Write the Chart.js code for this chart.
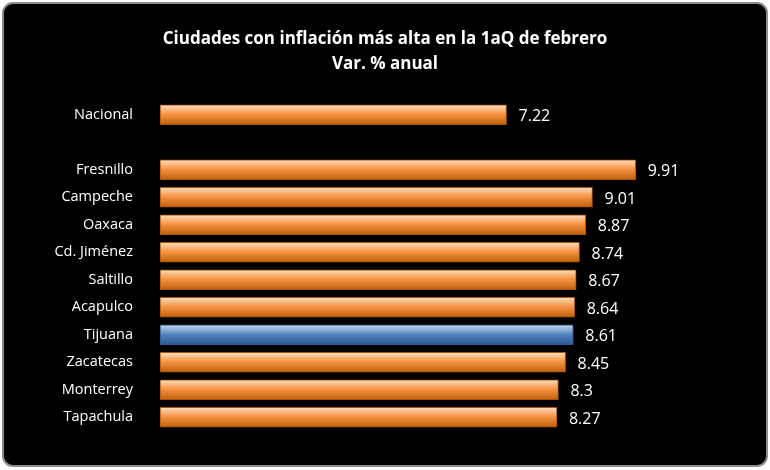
<!DOCTYPE html>
<html><head><meta charset="utf-8">
<script src="https://cdn.jsdelivr.net/npm/chart.js@4"></script>
<style>html,body{margin:0;padding:0;background:#fff}#w{width:770px;height:470px}</style>
</head><body><div id="w"><canvas id="c" width="770" height="470"></canvas></div>
<script>
const categories=["Nacional","","Fresnillo","Campeche","Oaxaca","Cd. Jiménez","Saltillo","Acapulco","Tijuana","Zacatecas","Monterrey","Tapachula"];
const values=[7.22,null,9.91,9.01,8.87,8.74,8.67,8.64,8.61,8.45,8.3,8.27];
const valueLabels=["7.22","","9.91","9.01","8.87","8.74","8.67","8.64","8.61","8.45","8.3","8.27"];
const titleLines=["Ciudades con inflación más alta en la 1aQ de febrero","Var. % anual"];
const highlight="Tijuana";
const F='"Open Sans", "Liberation Sans", sans-serif';
const bgPlugin={id:'bg',beforeDraw(ch){const c=ch.ctx;c.save();c.fillStyle='#000';c.strokeStyle='#8c8c8c';c.lineWidth=2;
 c.beginPath();c.roundRect(3,3,764,463,10);c.fill();c.stroke();
 c.fillStyle='#fff';c.font='bold 17px '+F;c.textAlign='center';c.textBaseline='middle';
 c.fillText(titleLines[0],385,39);c.fillText(titleLines[1],385,64);c.restore();}};
const lblPlugin={id:'lbl',afterDatasetsDraw(ch){const c=ch.ctx;const m=ch.getDatasetMeta(0);c.save();c.fillStyle='#fff';c.font='16px '+F;c.textBaseline='middle';
 m.data.forEach((b,i)=>{if(values[i]==null)return;c.fillText(valueLabels[i],b.x+12,b.y+2);});c.restore();}};
function grad(ctx,blue){const chart=ctx.chart;const ys=chart.scales&&chart.scales.y;
 if(!ys||!chart.chartArea)return blue?'#4f81bd':'#f79646';
 const y=ys.getPixelForValue(ctx.dataIndex);const h=10;
 const g=chart.ctx.createLinearGradient(0,y-h,0,y+h);
 if(blue){g.addColorStop(0,'#c6d9f1');g.addColorStop(0.5,'#4f81bd');g.addColorStop(1,'#2c5590');}
 else{g.addColorStop(0,'#fde0c2');g.addColorStop(0.45,'#f79646');g.addColorStop(1,'#c0600a');}return g;}
new Chart(document.getElementById('c'),{type:'bar',
 data:{labels:categories,datasets:[{data:values,barThickness:20,
  backgroundColor:ctx=>grad(ctx,categories[ctx.dataIndex]===highlight),
  borderColor:ctx=>categories[ctx.dataIndex]===highlight?'#2f5a8f':'#a85208',borderWidth:1,borderSkipped:false}]},
 options:{indexAxis:'y',responsive:false,animation:false,
  layout:{padding:{top:101,bottom:39,right:82,left:0}},
  plugins:{legend:{display:false},tooltip:{enabled:false}},
  scales:{x:{display:false,min:0,max:11},
   y:{grid:{display:false},border:{display:false},afterFit(s){s.width=160;},
    ticks:{color:'#fff',font:{family:F,size:14.5},padding:19}}}},
 plugins:[bgPlugin,lblPlugin]});
</script></body></html>
